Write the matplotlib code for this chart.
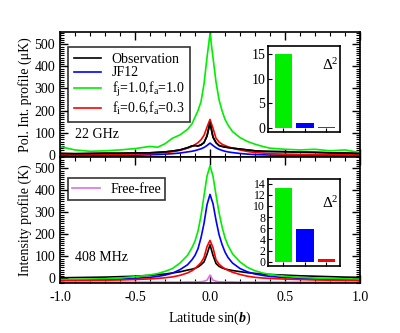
import matplotlib
matplotlib.use("Agg")
import matplotlib.pyplot as plt
from matplotlib.ticker import MultipleLocator

plt.rcParams['font.family'] = ['Liberation Serif', 'DejaVu Serif']
plt.rcParams['mathtext.fontset'] = 'custom'
plt.rcParams['mathtext.rm'] = 'Liberation Serif'
plt.rcParams['mathtext.it'] = 'Liberation Serif:italic'
plt.rcParams['mathtext.bf'] = 'Liberation Serif:bold'
plt.rcParams['mathtext.bfit'] = 'Liberation Serif:bold:italic'
plt.rcParams['font.size'] = 10

# latitude samples sin(b)
lat = [-1.0, -0.9, -0.8, -0.7, -0.6, -0.5, -0.4, -0.35, -0.3, -0.25, -0.2, -0.15,
       -0.12, -0.1, -0.08, -0.06, -0.04, -0.02, 0.0, 0.02, 0.04, 0.06, 0.08, 0.1,
       0.12, 0.15, 0.2, 0.25, 0.3, 0.35, 0.4, 0.5, 0.6, 0.7, 0.8, 0.9, 1.0]

# 22 GHz polarized intensity (uK)
pol_obs = [6, 5, 6, 7, 7, 8, 9, 11, 13, 17, 22, 32, 40, 42, 40, 45, 55, 85, 145,
           80, 55, 42, 38, 35, 33, 30, 26, 22, 18, 16, 15, 14, 12, 11, 9, 8, 6]
pol_jf12 = [-5, -5, -4, -4, -3, -2, 0, 1, 3, 5, 8, 13, 16, 19, 23, 27, 33, 42, 53,
            42, 32, 25, 20, 16, 13, 10, 6, 3, 1, 0, -1, -2, -3, -4, -4, -5, -5]
pol_f11 = [37, 22, 16, 18, 22, 28, 38, 34, 50, 75, 90, 115, 140, 170, 200, 240, 320,
           440, 548, 440, 330, 250, 200, 160, 135, 105, 78, 60, 48, 38, 30, 25, 22,
           25, 18, 22, 10]
pol_f63 = [2, 1, 1, 2, 2, 4, 5, 7, 10, 14, 20, 30, 38, 46, 55, 68, 88, 125, 160,
           120, 75, 58, 48, 42, 36, 30, 22, 15, 10, 8, 5, 3, 2, 1, 1, 0, 0]

# 408 MHz total intensity (K)
int_obs = [3, 4, 5, 6, 8, 10, 14, 17, 20, 25, 30, 38, 42, 46, 52, 62, 75, 110, 153,
           105, 68, 55, 48, 43, 40, 36, 31, 26, 23, 20, 18, 15, 12, 10, 8, 6, 5]
int_jf12 = [-8, -7, -6, -5, -3, 0, 5, 9, 15, 24, 40, 62, 85, 105, 135, 185, 250, 335,
            382, 340, 265, 200, 155, 120, 95, 70, 45, 30, 20, 14, 9, 4, 0, -2, -4, -5, -6]
int_f11 = [-5, -4, -3, -1, 2, 8, 16, 22, 32, 45, 70, 105, 140, 170, 215, 285, 375, 465,
           512, 465, 380, 300, 235, 185, 150, 112, 75, 50, 35, 25, 18, 10, 5, 2, 0, -2, -3]
int_f63 = [-10, -10, -9, -8, -7, -5, -2, 0, 3, 7, 14, 25, 35, 45, 58, 72, 95, 145, 173,
           140, 85, 65, 53, 44, 37, 28, 18, 10, 5, 2, 0, -3, -5, -7, -8, -9, -10]
int_ff = [-17, -17, -17, -17, -17, -17, -17, -17, -17, -17, -17, -16, -16, -16, -16,
          -15, -13, -8, 15, -8, -13, -15, -16, -16, -16, -16, -17, -17, -17, -17, -17,
          -17, -17, -17, -17, -17, -17]

# Delta^2 bars: f=1.0/1.0, JF12, f=0.6/0.3
d2_cols = ['#00ee00', '#0000ff', '#ff0000']
d2_pol = [14.9, 0.9, 0.1]
d2_int = [13.2, 5.8, 0.5]

fig = plt.figure(figsize=(4.0, 3.33), dpi=100)
ax1 = fig.add_axes([0.15, 0.5285, 0.75, 0.375])
ax2 = fig.add_axes([0.15, 0.150, 0.75, 0.3785])

lw = 1.2
ax1.plot(lat, pol_obs, color='black', lw=lw, label='Observation')
ax1.plot(lat, pol_jf12, color='#0000ff', lw=lw, label='JF12')
ax1.plot(lat, pol_f11, color='#00ee00', lw=lw, label='f$_\\mathrm{j}$=1.0,f$_\\mathrm{a}$=1.0')
ax1.plot(lat, pol_f63, color='#ff0000', lw=lw, label='f$_\\mathrm{i}$=0.6,f$_\\mathrm{a}$=0.3')
ax1.plot(lat, pol_obs, color='black', lw=lw)

ax2.plot(lat, int_obs, color='black', lw=lw)
ax2.plot(lat, int_jf12, color='#0000ff', lw=lw)
ax2.plot(lat, int_f11, color='#00ee00', lw=lw)
ax2.plot(lat, int_f63, color='#ff0000', lw=lw)
ax2.plot(lat, int_ff, color='#e070e0', lw=lw, label='Free-free')

ax1.set_ylim(-10, 555)
ax2.set_ylim(-21, 552)
for ax in (ax1, ax2):
    ax.set_xlim(-1.0, 1.0)
    ax.xaxis.set_major_locator(MultipleLocator(0.5))
    ax.xaxis.set_minor_locator(MultipleLocator(0.1))
    ax.yaxis.set_major_locator(MultipleLocator(100))
    ax.yaxis.set_minor_locator(MultipleLocator(10))
    ax.tick_params(which='both', direction='in', top=True, right=True)
    ax.tick_params(which='major', length=6, width=1)
    ax.tick_params(which='minor', length=3, width=0.8)
    for s in ax.spines.values():
        s.set_linewidth(1.2)

ax1.set_xticklabels([])
ax2.set_xticks([-1.0, -0.5, 0.0, 0.5, 1.0])
ax2.set_xticklabels(['-1.0', '-0.5', '0.0', '0.5', '1.0'])
ax2.tick_params(axis='x', pad=6)

ax1.set_ylabel('Pol. Int. profile (\u03bcK)', labelpad=2)
ax2.set_ylabel('Intensity profile (K)', labelpad=2)
ax2.set_xlabel('Latitude sin($\\boldsymbol{b}$)', labelpad=4)

leg1 = ax1.legend(loc='upper left', bbox_to_anchor=(0.027, 0.88), borderaxespad=0,
                  handlelength=2.0, handletextpad=0.75, borderpad=0.4,
                  labelspacing=0.05, fancybox=False, edgecolor='black')
leg1.get_frame().set_linewidth(1.2)
leg2 = ax2.legend(loc='upper left', bbox_to_anchor=(0.027, 0.83), borderaxespad=0,
                  handlelength=2.0, handletextpad=0.75, borderpad=0.3,
                  fancybox=False, edgecolor='black')
leg2.get_frame().set_linewidth(1.2)

ax1.text(0.05, 0.18, '22 GHz', transform=ax1.transAxes, va='center')
ax2.text(0.05, 0.2, '408 MHz', transform=ax2.transAxes, va='center')

# insets
in1 = fig.add_axes([0.67, 0.604, 0.18, 0.258])
in2 = fig.add_axes([0.67, 0.201, 0.18, 0.261])
for ax, vals, lim, step, ty, fs in ((in1, d2_pol, (-0.8, 16.6), 5, 0.78, 10),
                                    (in2, d2_int, (-0.77, 14.8), 2, 0.72, 8.5)):
    ax.bar(range(len(vals)), vals, width=0.8, color=d2_cols)
    ax.set_xlim(-0.72, 2.63)
    ax.set_ylim(*lim)
    ax.yaxis.set_major_locator(MultipleLocator(step))
    ax.set_xticks([0, 1, 2])
    ax.set_xticklabels([])
    ax.tick_params(direction='in', length=3, pad=2, labelsize=fs)
    for s in ax.spines.values():
        s.set_linewidth(1.2)
    ax.text(0.86, ty, '\u0394$^2$', transform=ax.transAxes, ha='center', va='center',
            fontsize=11)

fig.savefig('out.png', dpi=100)
